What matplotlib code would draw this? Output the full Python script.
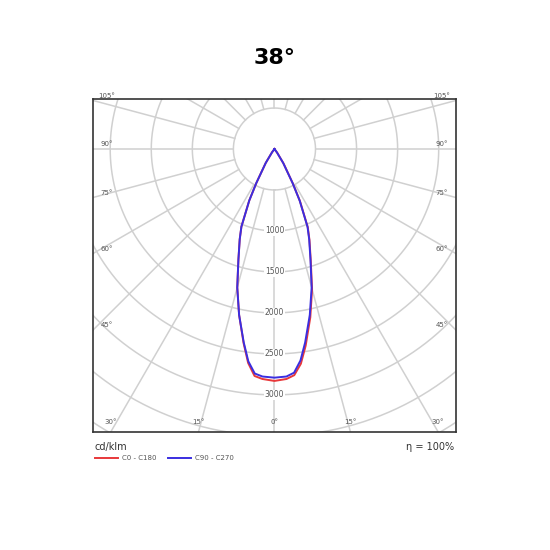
import numpy as np
import matplotlib.pyplot as plt

# photometric data, gamma in degrees, intensity in cd/klm
gamma = [0, 3, 5, 7, 9, 12, 15, 18, 21, 23, 26, 28, 32, 36, 40, 90]
c0 = [2830, 2810, 2770, 2640, 2430, 2100, 1770, 1430, 1190, 1040, 710, 480, 210, 60, 0, 0]
c180 = [2830, 2810, 2780, 2630, 2400, 2070, 1750, 1420, 1180, 1030, 700, 470, 200, 50, 0, 0]
c90 = [2790, 2780, 2740, 2600, 2390, 2070, 1750, 1420, 1180, 1030, 700, 470, 200, 50, 0, 0]
c270 = [2790, 2780, 2750, 2610, 2390, 2070, 1750, 1420, 1180, 1030, 700, 470, 200, 50, 0, 0]
ring_labels = [1000, 1500, 2000, 2500, 3000]
angle_labels = [15, 30, 45, 60, 75, 90, 105]

fig = plt.figure(figsize=(5.5, 5.5), dpi=100)
fig.text(0.5, 0.895, '38°', ha='center', va='center', fontsize=16, fontweight='bold')
ax = fig.add_axes([0.169, 0.215, 0.66, 0.605])
XL, YT, YB = 2210, -610, 3450
ax.set_xlim(-XL, XL)
ax.set_ylim(YB, YT)
ax.set_xticks([]); ax.set_yticks([])
for s in ax.spines.values():
    s.set_color('#333333'); s.set_linewidth(1.2)

gc = '#d0d0d0'
t = np.linspace(0, 2 * np.pi, 400)
for r in range(500, 6001, 500):
    ax.plot(r * np.sin(t), r * np.cos(t), color=gc, lw=1.1, zorder=1)
for a in range(0, 360, 15):
    ra = np.radians(a)
    ax.plot([500 * np.sin(ra), 6000 * np.sin(ra)], [500 * np.cos(ra), 6000 * np.cos(ra)],
            color=gc, lw=1.1, zorder=1)

for v in ring_labels:
    ax.text(0, v, str(v), ha='center', va='center', fontsize=5.5, color='#555555',
            bbox=dict(facecolor='white', edgecolor='none', pad=0.5), zorder=2)

for a in angle_labels:
    ra = np.radians(a)
    dx, dy = np.sin(ra), np.cos(ra)
    # intersection with box edges
    ts = []
    if dx > 1e-9:
        ts.append(XL / dx)
    if dy > 1e-9:
        ts.append(YB / dy)
    elif dy < -1e-9:
        ts.append(YT / dy)
    tt = min(ts)
    x, y = tt * dx, tt * dy
    x = min(x, XL - 170)
    y = min(y - 60, YB - 120)
    for sx in (1, -1):
        ax.text(sx * x, y, f'{a}°', ha='center', va='center', fontsize=5, color='#555555', zorder=2)
ax.text(0, YB - 120, '0°', ha='center', va='center', fontsize=5, color='#555555', zorder=2)

g = np.radians(gamma)
def side(vals, sgn):
    v = np.array(vals, float)
    return sgn * v * np.sin(g), v * np.cos(g)

for right, left, col in [(c0, c180, '#e8383a'), (c90, c270, '#3a2ee0')]:
    xr, yr = side(right, 1)
    xl, yl = side(left, -1)
    ax.plot(np.concatenate([xl[::-1], xr]), np.concatenate([yl[::-1], yr]),
            color=col, lw=1.4, zorder=3)

fig.text(0.172, 0.188, 'cd/klm', fontsize=7, va='center', color='#333333')
fig.text(0.825, 0.188, 'η = 100%', fontsize=7, va='center', ha='right', color='#333333')
fig.add_artist(plt.Line2D([0.172, 0.215], [0.168, 0.168], color='#e8383a', lw=1.4))
fig.text(0.222, 0.168, 'C0 - C180', fontsize=5, va='center', color='#555555')
fig.add_artist(plt.Line2D([0.305, 0.347], [0.168, 0.168], color='#3a2ee0', lw=1.4))
fig.text(0.354, 0.168, 'C90 - C270', fontsize=5, va='center', color='#555555')

fig.savefig('out.png', dpi=100, facecolor='white')
